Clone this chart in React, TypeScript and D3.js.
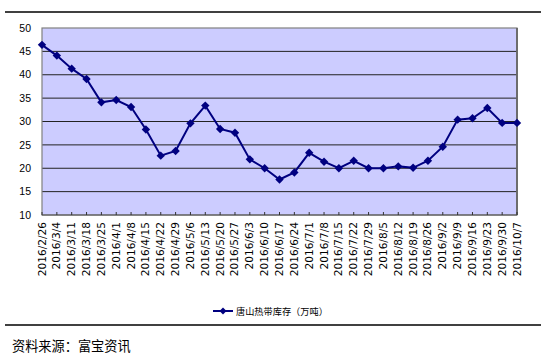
import React from "react";
import * as d3 from "d3";

const dates: string[] = [
  "2016/2/26", "2016/3/4", "2016/3/11", "2016/3/18", "2016/3/25", "2016/4/1", "2016/4/8",
  "2016/4/15", "2016/4/22", "2016/4/29", "2016/5/6", "2016/5/13", "2016/5/20", "2016/5/27",
  "2016/6/3", "2016/6/10", "2016/6/17", "2016/6/24", "2016/7/1", "2016/7/8", "2016/7/15",
  "2016/7/22", "2016/7/29", "2016/8/5", "2016/8/12", "2016/8/19", "2016/8/26", "2016/9/2",
  "2016/9/9", "2016/9/16", "2016/9/23", "2016/9/30", "2016/10/7",
];
const inventory: number[] = [
  46.4, 44.1, 41.3, 39.1, 34.1, 34.6, 33.1, 28.3, 22.7, 23.7, 29.6, 33.4, 28.4, 27.6,
  21.9, 20.0, 17.6, 19.1, 23.3, 21.4, 20.0, 21.6, 20.0, 20.0, 20.4, 20.1, 21.6, 24.6,
  30.4, 30.7, 32.9, 29.7, 29.7,
];
const yTicks: number[] = [10, 15, 20, 25, 30, 35, 40, 45, 50];
const seriesName = "唐山热带库存（万吨）";
const sourceText = "资料来源：富宝资讯";

const W = 546, H = 357;
const L = 42, R = 517, T = 28, B = 215;

export default function App() {
  const x = d3.scalePoint<string>().domain(dates).range([L, R]);
  const y = d3.scaleLinear().domain([10, 50]).range([B, T]);
  const line = d3.line<number>().x((_, i) => x(dates[i])!).y((d) => y(d));
  const diamond = (cx: number, cy: number, r = 4.2) =>
    `M${cx},${cy - r}L${cx + r},${cy}L${cx},${cy + r}L${cx - r},${cy}Z`;

  return (
    <svg width={W} height={H} style={{ position: "absolute", left: 0, top: 0, background: "#fff" }}>
      <line x1={5} x2={541} y1={12} y2={12} stroke="#000" strokeWidth={1.5} />
      <rect x={L} y={T} width={R - L} height={B - T} fill="#CCCCFF" />
      {yTicks.map((t) => (
        <g key={t}>
          {t > 10 && t < 50 && (
            <line x1={L} x2={R} y1={y(t)} y2={y(t)} stroke="#222" strokeWidth={1} />
          )}
          <text x={31} y={y(t)} dy="0.35em" textAnchor="end" fontFamily="Liberation Sans, Arial, sans-serif" fontSize={10.5} fill="#000">
            {t}
          </text>
        </g>
      ))}
      <rect x={L} y={T} width={R - L} height={B - T} fill="none" stroke="#808080" strokeWidth={1.2} />
      <line x1={R} x2={R} y1={T} y2={B} stroke="#666" strokeWidth={1.8} />
      <line x1={L} x2={R} y1={B} y2={B} stroke="#555" strokeWidth={1.2} />
      {dates.map((d) => (
        <g key={d}>
          <line x1={x(d)} x2={x(d)} y1={B} y2={B - 3} stroke="#333" strokeWidth={1} />
          <text
            transform={`translate(${x(d)! + 3.5},${B + 7}) rotate(-90)`}
            textAnchor="end"
            fontFamily="DejaVu Sans, sans-serif"
            fontSize={10.6}
            fill="#000"
          >
            {d}
          </text>
        </g>
      ))}
      <path d={line(inventory) || ""} fill="none" stroke="#000080" strokeWidth={2} />
      {inventory.map((v, i) => (
        <path key={i} d={diamond(x(dates[i])!, y(v))} fill="#000080" />
      ))}
      <line x1={213} x2={233} y1={311} y2={311} stroke="#000080" strokeWidth={2} />
      <path d={diamond(223, 311, 3.5)} fill="#000080" />
      <text x={236} y={314.5} fontFamily="Noto Sans CJK SC, sans-serif" fontSize={9.2} fill="#000">
        {seriesName}
      </text>
      <line x1={5} x2={541} y1={325} y2={325} stroke="#000" strokeWidth={1.5} />
      <text x={12} y={351} fontFamily="Noto Sans CJK SC, sans-serif" fontSize={13.2} fill="#000">
        {sourceText}
      </text>
    </svg>
  );
}
